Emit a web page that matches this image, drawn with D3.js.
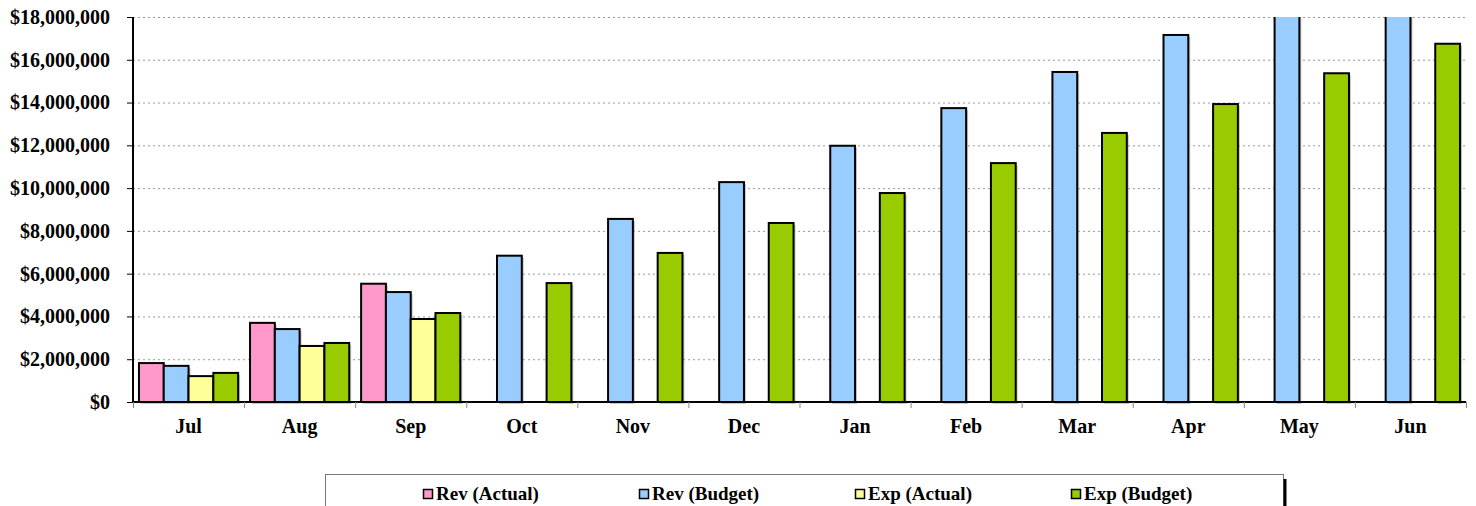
<!DOCTYPE html>
<html>
<head>
<meta charset="utf-8">
<script src="https://cdn.jsdelivr.net/npm/d3@7"></script>
<style>
  body { margin: 0; background: #fff; }
  text { font-family: "Liberation Serif", "Times New Roman", serif; font-weight: bold; }
</style>
</head>
<body>
<script>
// data
var months = ["Jul", "Aug", "Sep", "Oct", "Nov", "Dec", "Jan", "Feb", "Mar", "Apr", "May", "Jun"];
var seriesNames = ["Rev (Actual)", "Rev (Budget)", "Exp (Actual)", "Exp (Budget)"];
var seriesColors = ["#FF99CC", "#99CCFF", "#FFFF99", "#99CC00"];
var revActual = [1820000, 3700000, 5530000, null, null, null, null, null, null, null, null, null];
var revBudget = [1690000, 3410000, 5140000, 6840000, 8560000, 10280000, 11980000, 13740000, 15430000, 17160000, 18880000, 20600000];
var expActual = [1210000, 2620000, 3880000, null, null, null, null, null, null, null, null, null];
var expBudget = [1360000, 2760000, 4160000, 5560000, 6970000, 8370000, 9770000, 11170000, 12580000, 13930000, 15370000, 16750000];
var yTicks = [0, 2000000, 4000000, 6000000, 8000000, 10000000, 12000000, 14000000, 16000000, 18000000];

var allSeries = [revActual, revBudget, expActual, expBudget];

var W = 1476, H = 506;
var margin = {top: 17, right: 10, bottom: 104, left: 133},
    width = 1466 - margin.left,
    height = 402 - margin.top;

var svg = d3.select("body").append("svg")
  .attr("width", W)
  .attr("height", H);

var g = svg.append("g")
  .attr("transform", "translate(" + margin.left + "," + margin.top + ")");

var x0 = d3.scaleBand().domain(months).range([0, width]).padding(0);
var x1 = d3.scaleBand().domain(d3.range(4)).range([0, x0.bandwidth()])
  .paddingInner(0).paddingOuter(0.24);
var y = d3.scaleLinear().domain([0, 18000000]).range([height, 0]);

// clip for bars that go past the top
svg.append("defs").append("clipPath").attr("id", "plotclip")
  .append("rect").attr("x", -5).attr("y", 0).attr("width", width + 10).attr("height", height + 20);

// gridlines
g.append("g").selectAll("line")
  .data(yTicks.filter(function(d) { return d > 0; }))
  .enter().append("line")
  .attr("x1", 0).attr("x2", width)
  .attr("y1", function(d) { return y(d) + 0.5; })
  .attr("y2", function(d) { return y(d) + 0.5; })
  .attr("stroke", "#999")
  .attr("stroke-width", 1)
  .attr("stroke-dasharray", "2,3");

// bars
var bars = [];
months.forEach(function(m, i) {
  allSeries.forEach(function(s, k) {
    if (s[i] != null) bars.push({m: m, k: k, v: s[i]});
  });
});

var barG = g.append("g").attr("clip-path", "url(#plotclip)");

// soft shadow behind each bar
barG.selectAll("rect.shadow").data(bars).enter().append("rect")
  .attr("class", "shadow")
  .attr("x", function(d) { return x0(d.m) + x1(d.k) + 2; })
  .attr("y", function(d) { return y(d.v) + 2; })
  .attr("width", x1.bandwidth())
  .attr("height", function(d) { return y(0) - y(d.v); })
  .attr("fill", "#888")
  .attr("opacity", 0.45);

barG.selectAll("rect.bar").data(bars).enter().append("rect")
  .attr("class", "bar")
  .attr("x", function(d) { return x0(d.m) + x1(d.k); })
  .attr("y", function(d) { return y(d.v); })
  .attr("width", x1.bandwidth())
  .attr("height", function(d) { return y(0) - y(d.v); })
  .attr("fill", function(d) { return seriesColors[d.k]; })
  .attr("stroke", "#000")
  .attr("stroke-width", 2);

// y axis
var yAxis = g.append("g")
  .call(d3.axisLeft(y).tickValues(yTicks).tickSize(6).tickPadding(17)
    .tickFormat(function(d) { return "$" + d3.format(",")(d); }));
yAxis.select(".domain").attr("stroke", "#000").attr("stroke-width", 2).attr("d", "M0,0V" + height);
yAxis.selectAll(".tick line").attr("stroke", "#000").attr("stroke-width", 1);
yAxis.selectAll("text").attr("font-size", "20px").attr("fill", "#000")
  .attr("font-family", "Liberation Serif").attr("font-weight", "bold");

// x axis
var xAxis = g.append("g").attr("transform", "translate(0," + height + ")")
  .call(d3.axisBottom(x0).tickSize(0).tickPadding(17));
xAxis.select(".domain").attr("stroke", "#000").attr("stroke-width", 2).attr("d", "M0,0H" + width);
xAxis.selectAll("text").attr("font-size", "20px").attr("fill", "#000")
  .attr("font-family", "Liberation Serif").attr("font-weight", "bold");
g.append("g").attr("transform", "translate(0," + height + ")")
  .selectAll("line").data(months.concat(["end"])).enter().append("line")
  .attr("x1", function(d, i) { return i * x0.step() + 0.5; })
  .attr("x2", function(d, i) { return i * x0.step() + 0.5; })
  .attr("y1", 0).attr("y2", 6)
  .attr("stroke", "#888").attr("stroke-width", 1);

// legend
var leg = svg.append("g");
leg.append("rect")
  .attr("x", 325.5).attr("y", 474.5).attr("width", 958).attr("height", 60)
  .attr("fill", "#fff").attr("stroke", "#777").attr("stroke-width", 1);
leg.append("line")
  .attr("x1", 1285).attr("x2", 1285).attr("y1", 479).attr("y2", 506)
  .attr("stroke", "#000").attr("stroke-width", 3);

var legX = [423, 639, 855, 1071];
var items = leg.selectAll("g.item").data(seriesNames).enter().append("g")
  .attr("transform", function(d, i) { return "translate(" + legX[i] + ",0)"; });
items.append("rect")
  .attr("x", 0.5).attr("y", 489.5).attr("width", 9).attr("height", 9)
  .attr("fill", function(d, i) { return seriesColors[i]; })
  .attr("stroke", "#000").attr("stroke-width", 1.5);
items.append("text")
  .attr("x", 13).attr("y", 500)
  .attr("font-size", "19px")
  .text(function(d) { return d; });
</script>
</body>
</html>
